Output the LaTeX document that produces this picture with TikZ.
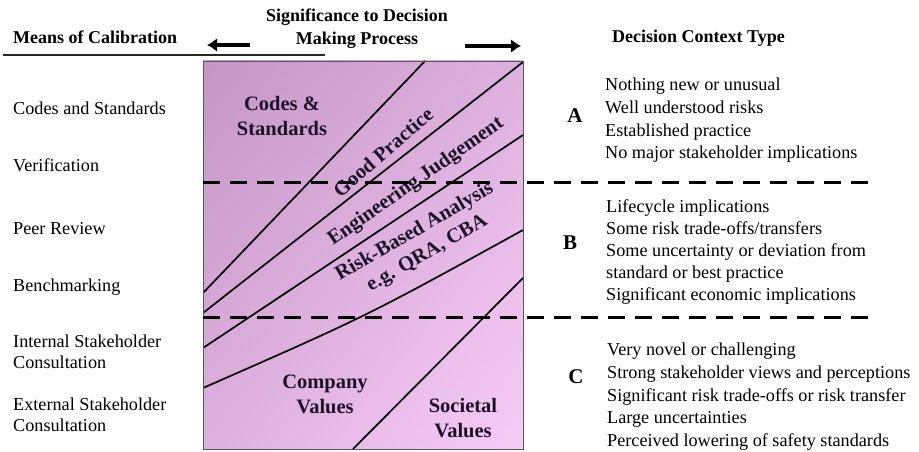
\documentclass[tikz,border=0pt]{standalone}
\usepackage{fontspec}
\setmainfont{Liberation Serif}
\usetikzlibrary{arrows.meta,shadings}
\definecolor{ulc}{RGB}{197,150,197}
\definecolor{urc}{RGB}{222,176,222}
\definecolor{llc}{RGB}{222,176,222}
\definecolor{lrc}{RGB}{247,203,247}
\definecolor{lbltext}{RGB}{25,20,40}
\begin{document}
\begin{tikzpicture}[x=1pt,y=-1pt,
  hdr/.style={font=\bfseries\fontsize{18}{22}\selectfont, inner sep=0pt},
  body/.style={font=\fontsize{18.2}{22}\selectfont, inner sep=0pt, anchor=base west},
  lbl/.style={font=\bfseries\fontsize{20.5}{25}\selectfont, inner sep=0pt, text=lbltext, align=center},
  letter/.style={font=\bfseries\fontsize{21}{24}\selectfont, inner sep=0pt, anchor=base},
  band/.style={line width=1.7pt, black},
  divider/.style={line width=3pt, black, dash pattern=on 17pt off 10pt},
  arr/.style={line width=3.4pt, -{Latex[length=10pt,width=14pt]}}]
\useasboundingbox (0,0) rectangle (919,452);

% shaded panel
\shade[upper left=ulc, upper right=urc, lower left=llc, lower right=lrc] (203,61) rectangle (523,449);

% boundary lines
\coordinate (l1a) at (425,61);  \coordinate (l1b) at (203,293);
\coordinate (l2a) at (523,62);  \coordinate (l2b) at (203,313);
\coordinate (l3a) at (523,135); \coordinate (l3b) at (203,348);
\coordinate (l4a) at (523,230); \coordinate (l4c) at (367,316); \coordinate (l4b) at (203,388);
\coordinate (l5a) at (523,278); \coordinate (l5b) at (353,449);
\begin{scope}
\clip (203,61) rectangle (523,449);
\draw[band] (l1a) -- (l1b);
\draw[band] (l2a) -- (l2b);
\draw[band] (l3a) -- (l3b);
\draw[band] (l4a) .. controls (l4c) .. (l4b);
\draw[band] (l5a) -- (l5b);
\end{scope}
\draw[gray!70!black, line width=0.9pt] (203,61) rectangle (523,449);

% dashed dividers
\coordinate (d1a) at (203,182); \coordinate (d1b) at (874,182);
\coordinate (d2a) at (203,317); \coordinate (d2b) at (874,317);
\draw[divider] (d1a) -- (d1b);
\draw[divider] (d2a) -- (d2b);

% panel labels
\node[lbl] (cs) at (282,116) {Codes \&\\Standards};
\node[lbl, rotate=41] (gp) at (383,152) {Good Practice};
\node[lbl, rotate=35] (ej) at (416,182) {Engineering Judgement};
\node[lbl, rotate=30] (rb) at (421,243) {Risk-Based Analysis\\e.g. QRA, CBA};
\node[lbl] (cv) at (325,394) {Company\\Values};
\node[lbl] (sv) at (463,418) {Societal\\Values};

% headers
\node[hdr, anchor=base west] (moc) at (13,43.5) {Means of Calibration};
\coordinate (ul1) at (3,55); \coordinate (ul2) at (325,55);
\draw[line width=1.2pt, black!85] (ul1) -- (ul2);
\node[hdr, anchor=base] (sig1) at (357,22) {Significance to Decision};
\node[hdr, anchor=base] (sig2) at (357,45) {Making Process};
\coordinate (al1) at (250,45); \coordinate (al2) at (207,45);
\coordinate (ar1) at (465,46); \coordinate (ar2) at (521,46);
\draw[arr] (al1) -- (al2);
\draw[arr] (ar1) -- (ar2);
\node[hdr, anchor=base west] (dct) at (612,43) {Decision Context Type};

% left column
\node[body] (m1) at (13,114) {Codes and Standards};
\node[body] (m2) at (13,171) {Verification};
\node[body] (m3) at (13,234) {Peer Review};
\node[body] (m4) at (13,291) {Benchmarking};
\node[body] (m5) at (13,347) {Internal Stakeholder};
\node[body] (m5b) at (13,368) {Consultation};
\node[body] (m6) at (13,410) {External Stakeholder};
\node[body] (m6b) at (13,431) {Consultation};

% context letters
\node[letter] (A) at (575,122) {A};
\node[letter] (B) at (570,249) {B};
\node[letter] (C) at (576,383) {C};

% context A
\node[body] (a1) at (605,91) {Nothing new or unusual};
\node[body] (a2) at (605,113.5) {Well understood risks};
\node[body] (a3) at (605,136) {Established practice};
\node[body] (a4) at (605,158.5) {No major stakeholder implications};
% context B
\node[body] (b1) at (606,212) {Lifecycle implications};
\node[body] (b2) at (606,234) {Some risk trade-offs/transfers};
\node[body] (b3) at (606,256) {Some uncertainty or deviation from};
\node[body] (b4) at (606,278) {standard or best practice};
\node[body] (b5) at (606,300) {Significant economic implications};
% context C
\node[body] (c1) at (607,355) {Very novel or challenging};
\node[body] (c2) at (607,378) {Strong stakeholder views and perceptions};
\node[body] (c3) at (607,401) {Significant risk trade-offs or risk transfer};
\node[body] (c4) at (607,423.5) {Large uncertainties};
\node[body] (c5) at (607,446) {Perceived lowering of safety standards};
\end{tikzpicture}
\end{document}
